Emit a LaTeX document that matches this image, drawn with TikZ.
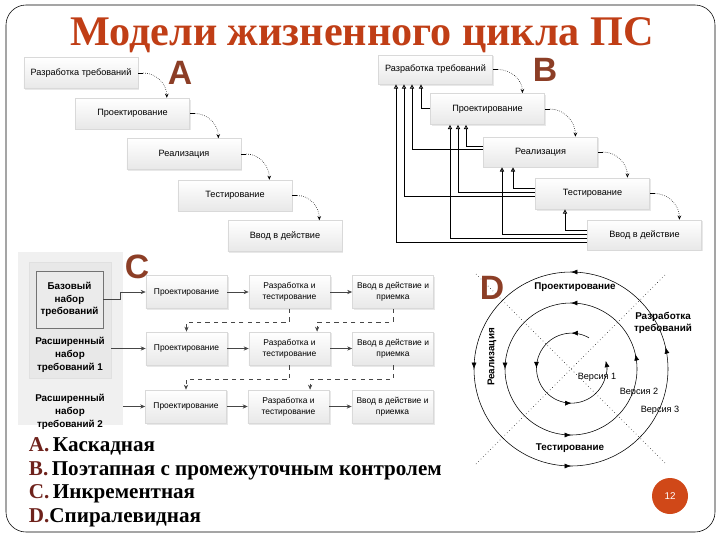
\documentclass[tikz,border=0pt]{standalone}
\usepackage{fontspec}
\setmainfont{Liberation Serif}
\setsansfont{Liberation Sans}
\usetikzlibrary{arrows.meta, positioning, calc, shadows, decorations.markings}
\definecolor{titlered}{RGB}{192,62,22}
\definecolor{letterbrown}{RGB}{140,62,38}
\definecolor{listbrown}{RGB}{110,34,28}
\definecolor{pagered}{RGB}{208,72,24}
\definecolor{linegray}{RGB}{70,70,70}
\tikzset{
  stage/.style={draw=black!15, top color=white, bottom color=black!9, inner sep=1pt,
    minimum width=2.85cm, minimum height=0.77cm, align=center,
    font=\sffamily\fontsize{6.5}{7.5}\selectfont,
    drop shadow={opacity=0.18, shadow xshift=1pt, shadow yshift=-1pt}},
  cbox/.style={stage, minimum width=2.03cm, minimum height=0.83cm, font=\sffamily\fontsize{6}{7.5}\selectfont},
  flow/.style={densely dotted, thin, -{Stealth[open, length=3pt, width=2.6pt]}},
  back/.style={line width=0.6pt, -{Triangle[open, length=3pt, width=3pt]}},
  feed/.style={thin, color=linegray, -{Stealth[length=3.5pt, width=3pt]}},
  loopback/.style={dashed, thin, color=linegray, -{Stealth[length=3.5pt, width=3pt]}},
  letter/.style={font=\sffamily\bfseries\fontsize{24}{24}\selectfont, color=letterbrown},
  grplabel/.style={font=\sffamily\bfseries\fontsize{7}{9}\selectfont, align=center},
  diag/.style={dotted, thin},
  turn/.style={thin, decoration={markings,
    mark=at position 0.125 with {\arrow{Latex[length=4.5pt, width=3.5pt]}},
    mark=at position 0.375 with {\arrow{Latex[length=4.5pt, width=3.5pt]}},
    mark=at position 0.625 with {\arrow{Latex[length=4.5pt, width=3.5pt]}},
    mark=at position 0.911 with {\arrow{Latex[length=4.5pt, width=3.5pt]}}},
    postaction={decorate}},
  spirlabel/.style={font=\sffamily\bfseries\fontsize{7}{8}\selectfont, align=center},
  verlabel/.style={font=\sffamily\fontsize{6.5}{8}\selectfont},
  listline/.style={font=\bfseries\fontsize{15}{17}\selectfont, anchor=base west}
}

\begin{document}
\begin{tikzpicture}[x=0.025cm, y=-0.025cm]
  \useasboundingbox (0,0) rectangle (720,540);
  % slide frame and title
  \draw[thin, rounded corners=0.5cm] (6,5) rectangle (715,532);
  \node[font=\bfseries\fontsize{30}{31}\selectfont, color=titlered, anchor=base] (title) at (362,45) {Модели жизненного цикла ПС};

  % ---------------- A: waterfall ----------------
  \node[letter] (lblA) at (180,73) {A};
  \node[stage] (a1) at (81,73) {Разработка требований};
  \node[stage] (a2) at (132.5,113.5) {Проектирование};
  \node[stage] (a3) at (184,154) {Реализация};
  \node[stage] (a4) at (235,195.5) {Тестирование};
  \node[stage] (a5) at (285,236) {Ввод в действие};
  \foreach \u/\v in {a1/a2, a2/a3, a3/a4, a4/a5} {
    \draw[thin] (\u.east) -- ++(5,0);
    \draw[flow] ($(\u.east)+(5,0)$) to[out=0, in=90] ([xshift=-0.575cm]\v.north east);
  }

  % ---------------- B: staged with control ----------------
  \node[letter] (lblB) at (545,70) {B};
  \node[stage, minimum height=0.73cm] (b1) at (435.5,69.5) {Разработка требований};
  \node[stage, minimum height=0.78cm] (b2) at (487.5,109) {Проектирование};
  \node[stage, minimum height=0.75cm] (b3) at (540.5,152) {Реализация};
  \node[stage, minimum height=0.78cm] (b4) at (592.5,193.5) {Тестирование};
  \node[stage, minimum height=0.75cm] (b5) at (644.5,235) {Ввод в действие};
  \foreach \u/\v in {b1/b2, b2/b3, b3/b4, b4/b5} {
    \draw[thin] (\u.east) -- ++(5,0);
    \draw[flow] ($(\u.east)+(5,0)$) to[out=0, in=90] ([xshift=-0.56cm]\v.north east);
  }
  % returns to earlier stages
  \foreach \src/\dst/\xx/\yy in {b2/b1/421/108, b3/b1/412/149, b3/b2/466/146,
      b4/b1/404/196, b4/b2/458/192, b4/b3/513/188,
      b5/b1/396/242, b5/b2/450/238, b5/b3/502/234, b5/b4/565/230}
    \draw[back] (\src.west |- 0,\yy) -| (\dst.south -| \xx,0);

  % ---------------- C: incremental ----------------
  \node[letter] (lblC) at (137,267) {C};
  \node[fill=black!6, minimum width=2.63cm, minimum height=4.33cm] (grp2) at (70.5,338.5) {};
  \node[fill=black!9, draw=black!12, minimum width=2.05cm, minimum height=2.9cm] (grp1) at (70,320) {};
  \node[fill=black!8, draw=black!55, minimum width=1.68cm, minimum height=1.43cm] (grp0) at (69.5,299.5) {};
  \node[grplabel] (req0) at (grp0) {Базовый\\набор\\требований};
  \node[grplabel] (req1) at (70,355) {Расширенный\\набор\\требований 1};
  \node[grplabel] (req2) at (70,412) {Расширенный\\набор\\требований 2};

  \node[cbox] (c11) at (186.5,292) {Проектирование};
  \node[cbox] (c12) at (289.5,292) {Разработка и\\тестирование};
  \node[cbox] (c13) at (393,292) {Ввод в действие и\\приемка};
  \node[cbox] (c21) at (186.5,348.5) {Проектирование};
  \node[cbox] (c22) at (289.5,348.5) {Разработка и\\тестирование};
  \node[cbox] (c23) at (393,348.5) {Ввод в действие и\\приемка};
  \node[cbox] (c31) at (186,406.5) {Проектирование};
  \node[cbox] (c32) at (288.5,406.5) {Разработка и\\тестирование};
  \node[cbox] (c33) at (392.5,406.5) {Ввод в действие и\\приемка};

  \draw[feed] (grp0.east) -- ++(17,0) |- (c11);
  \draw[feed] (grp1.east |- c21) -- (c21);
  \draw[feed] (grp2.east |- c31) -- (c31);
  \foreach \r in {1,2,3} {
    \draw[feed] (c\r1) -- (c\r2);
    \draw[feed] (c\r2) -- (c\r3);
  }
  \draw[loopback] (c12.south) -- ++(0,13) -| (c21.north);
  \draw[loopback] (c13.south) -- ++(0,13) -| ([xshift=0.69cm]c22.north);
  \draw[loopback] (c22.south) -- ++(0,14) -| (c31.north);
  \draw[loopback] (c23.south) -- ++(0,14) -| ([xshift=0.54cm]c32.north);

  % ---------------- D: spiral ----------------
  \begin{scope}[shift={(571,369)}, x=0.025cm, y=0.025cm]
    \draw[diag] (-95,-95) -- (95,95);
    \draw[diag] (-95,95) -- (95,-95);
    \draw[turn] (45:97) arc[start angle=45, end angle=405, radius=97];
    \draw[turn] (45:66) arc[start angle=45, end angle=405, radius=66];
    \draw[thin, -{Latex[length=4.5pt, width=3.5pt]}, decoration={markings,
      mark=at position 0.096 with {\arrow{Latex[length=4.5pt, width=3.5pt]}},
      mark=at position 0.385 with {\arrow{Latex[length=4.5pt, width=3.5pt]}},
      mark=at position 0.673 with {\arrow{Latex[length=4.5pt, width=3.5pt]}}},
      postaction={decorate}] (60:36) arc[start angle=60, end angle=372, radius=35];
    \node[letter, inner sep=0pt] (lblD) at (-79,81) {D};
    \node[spirlabel] (sp1) at (4,82) {Проектирование};
    \node[spirlabel] (sp2) at (92,46) {Разработка\\требований};
    \node[spirlabel, rotate=90] (sp3) at (-79,12) {Реализация};
    \node[spirlabel] (sp4) at (-1,-79) {Тестирование};
    \node[verlabel] (v1) at (26,-8) {Версия 1};
    \node[verlabel] (v2) at (68,-23) {Версия 2};
    \node[verlabel] (v3) at (89,-41) {Версия 3};
  \end{scope}

  % ---------------- list and page number ----------------
  \node[listline] (lstA) at (24,451) {\textcolor{listbrown}{A.}\,Каскадная};
  \node[listline] (lstB) at (24,475) {\textcolor{listbrown}{B.}\,Поэтапная с промежуточным контролем};
  \node[listline] (lstC) at (24,498) {\textcolor{listbrown}{C.}\,Инкрементная};
  \node[listline] (lstD) at (24,522) {\textcolor{listbrown}{D.}Спиралевидная};
  \node[circle, fill=pagered, minimum size=0.9cm, inner sep=0pt, text=white, font=\sffamily\fontsize{7}{8}\selectfont] (page) at (670,496) {12};
\end{tikzpicture}
\end{document}
